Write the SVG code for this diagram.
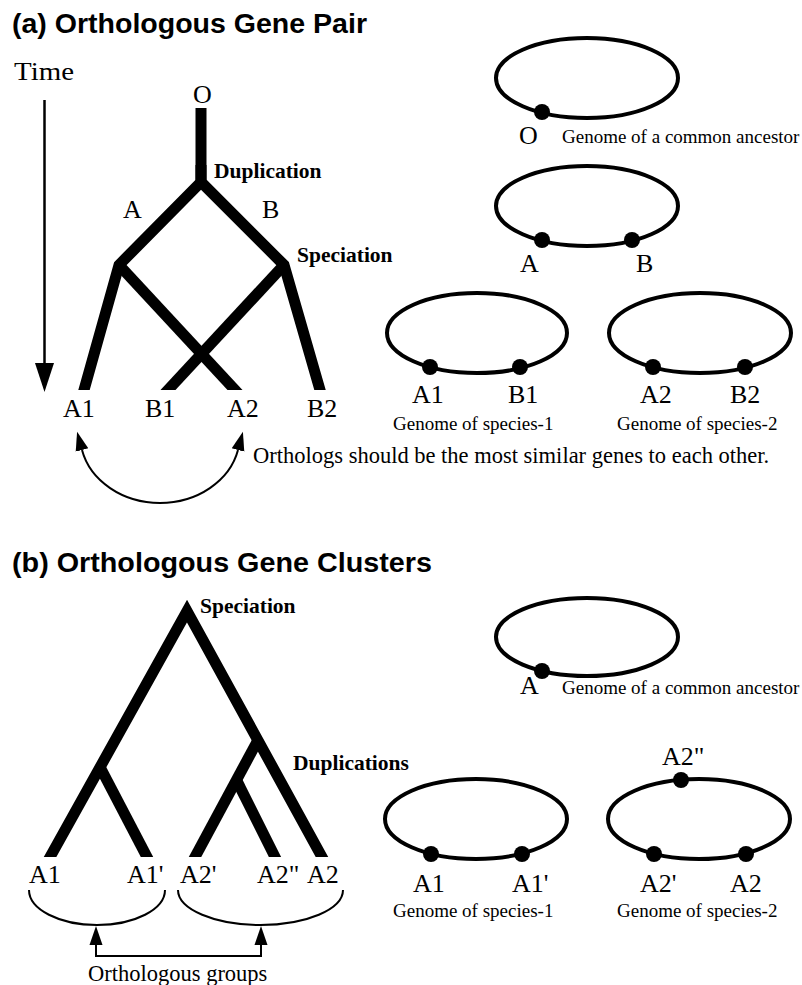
<svg xmlns="http://www.w3.org/2000/svg" width="802" height="985" viewBox="0 0 802 985">
  <style>
    .title { font-family: "Liberation Sans", Arial, sans-serif; font-weight: bold; font-size: 27px; fill: #000; }
    .big { font-family: "Liberation Serif", "Times New Roman", serif; font-size: 26px; fill: #000; }
    .event { font-family: "Liberation Serif", "Times New Roman", serif; font-weight: bold; font-size: 21.5px; fill: #000; }
    .small { font-family: "Liberation Serif", "Times New Roman", serif; font-size: 19px; fill: #000; }
    .note { font-family: "Liberation Serif", "Times New Roman", serif; font-size: 22.5px; fill: #000; }
    .branch { fill: none; stroke: #000; stroke-width: 11; stroke-linecap: butt; stroke-linejoin: miter; }
    .genome { fill: none; stroke: #000; stroke-width: 4; }
    .gene { fill: #000; }
    .thin { fill: none; stroke: #000; stroke-width: 2; }
  </style>
  <defs>
    <marker id="arrow" markerUnits="userSpaceOnUse" markerWidth="22" markerHeight="16" viewBox="0 -8 22 16" refX="0" refY="0" orient="auto-start-reverse">
      <path d="M0,-6.5 L19,0 L0,6.5 Z" fill="#000"/>
    </marker>
    <clipPath id="clipA"><rect x="0" y="0" width="400" height="390"/></clipPath>
    <clipPath id="clipB"><rect x="0" y="560" width="400" height="297"/></clipPath>
  </defs>
  <rect width="802" height="985" fill="#fff"/>

  <!-- (a) orthologous gene pair -->
  <text class="title" x="12" y="33" textLength="355" lengthAdjust="spacingAndGlyphs">(a) Orthologous Gene Pair</text>

  <g id="time-axis">
    <text class="big" x="14" y="80" textLength="60" lengthAdjust="spacingAndGlyphs">Time</text>
    <line x1="44.5" y1="100" x2="44.5" y2="366" stroke="#000" stroke-width="2.5"/>
    <polygon points="35,363 54,363 44.5,392" fill="#000"/>
  </g>

  <g id="tree-a" clip-path="url(#clipA)">
    <path class="branch" d="M201,108 V182 L119,265 L81.2,400"/>
    <path class="branch" d="M201,165 V182 L284,265 L322.9,400"/>
    <path class="branch" d="M119,265 L244.3,400"/>
    <path class="branch" d="M284,265 L158.7,400"/>
  </g>
  <g id="tree-a-labels">
    <text class="big" x="193" y="103">O</text>
    <text class="event" x="214" y="178">Duplication</text>
    <text class="big" x="123" y="218">A</text>
    <text class="big" x="262" y="218">B</text>
    <text class="event" x="297" y="262">Speciation</text>
    <text class="big" x="63" y="417">A1</text>
    <text class="big" x="145" y="417">B1</text>
    <text class="big" x="227" y="417">A2</text>
    <text class="big" x="307" y="417">B2</text>
  </g>

  <g id="connectors">
    <path class="thin" d="M82,450 A80,68 0 0,0 238,450" marker-start="url(#arrow)" marker-end="url(#arrow)"/>
    <path class="thin" d="M29,890 A68,35 0 0,0 165,890"/>
    <path class="thin" d="M178,890 A82.5,35 0 0,0 343,890"/>
    <path class="thin" d="M96,945 V956 H261 V945" marker-start="url(#arrow)" marker-end="url(#arrow)"/>
  </g>
  <text class="note" x="253" y="463">Orthologs should be the most similar genes to each other.</text>

  <g id="genome-ancestor-a">
    <ellipse class="genome" cx="587" cy="78" rx="91" ry="40"/>
    <circle class="gene" cx="542" cy="112" r="8"/>
    <text class="big" x="519" y="144">O</text>
    <text class="small" x="562" y="143">Genome of a common ancestor</text>
  </g>

  <g id="genome-duplicated-a">
    <ellipse class="genome" cx="587" cy="206" rx="91" ry="40"/>
    <circle class="gene" cx="542" cy="240" r="8"/>
    <circle class="gene" cx="632" cy="240" r="8"/>
    <text class="big" x="520" y="272">A</text>
    <text class="big" x="636" y="272">B</text>
  </g>

  <g id="genome-species1-a">
    <ellipse class="genome" cx="477" cy="333" rx="90" ry="40"/>
    <circle class="gene" cx="430" cy="367" r="8"/>
    <circle class="gene" cx="520" cy="367" r="8"/>
    <text class="big" x="412" y="403">A1</text>
    <text class="big" x="508" y="403">B1</text>
    <text class="small" x="393" y="430">Genome of species-1</text>
  </g>

  <g id="genome-species2-a">
    <ellipse class="genome" cx="700" cy="333" rx="91" ry="40"/>
    <circle class="gene" cx="653" cy="367" r="8"/>
    <circle class="gene" cx="745" cy="367" r="8"/>
    <text class="big" x="640" y="403">A2</text>
    <text class="big" x="730" y="403">B2</text>
    <text class="small" x="617" y="430">Genome of species-2</text>
  </g>

  <!-- (b) orthologous gene clusters -->
  <text class="title" x="12" y="572" textLength="420" lengthAdjust="spacingAndGlyphs">(b) Orthologous Gene Clusters</text>

  <g id="tree-b" clip-path="url(#clipB)">
    <path class="branch" d="M42.8,870 L187,611 L329.1,870" stroke-linejoin="bevel"/>
    <path class="branch" d="M100,767 L153.8,870"/>
    <path class="branch" d="M258,740 L188,870"/>
    <path class="branch" d="M236.5,780 L281.5,870"/>
  </g>
  <g id="tree-b-labels">
    <text class="event" x="200" y="613">Speciation</text>
    <text class="event" x="293" y="770">Duplications</text>
    <text class="big" x="29" y="883">A1</text>
    <text class="big" x="127" y="883">A1'</text>
    <text class="big" x="180" y="883">A2'</text>
    <text class="big" x="257" y="883">A2"</text>
    <text class="big" x="307" y="883">A2</text>
    <text class="note" x="88" y="981">Orthologous groups</text>
  </g>

  <g id="genome-ancestor-b">
    <ellipse class="genome" cx="587" cy="637" rx="91" ry="39"/>
    <circle class="gene" cx="542" cy="671" r="8"/>
    <text class="big" x="520" y="694">A</text>
    <text class="small" x="562" y="694">Genome of a common ancestor</text>
  </g>

  <g id="genome-species1-b">
    <ellipse class="genome" cx="476" cy="819" rx="91" ry="40"/>
    <circle class="gene" cx="431" cy="854" r="8"/>
    <circle class="gene" cx="522" cy="854" r="8"/>
    <text class="big" x="413" y="892">A1</text>
    <text class="big" x="512" y="892">A1'</text>
    <text class="small" x="393" y="917">Genome of species-1</text>
  </g>

  <g id="genome-species2-b">
    <ellipse class="genome" cx="699" cy="819" rx="91" ry="40"/>
    <circle class="gene" cx="681" cy="780" r="8"/>
    <circle class="gene" cx="654" cy="854" r="8"/>
    <circle class="gene" cx="746" cy="854" r="8"/>
    <text class="big" x="662" y="765">A2"</text>
    <text class="big" x="640" y="892">A2'</text>
    <text class="big" x="730" y="892">A2</text>
    <text class="small" x="617" y="917">Genome of species-2</text>
  </g>
</svg>
